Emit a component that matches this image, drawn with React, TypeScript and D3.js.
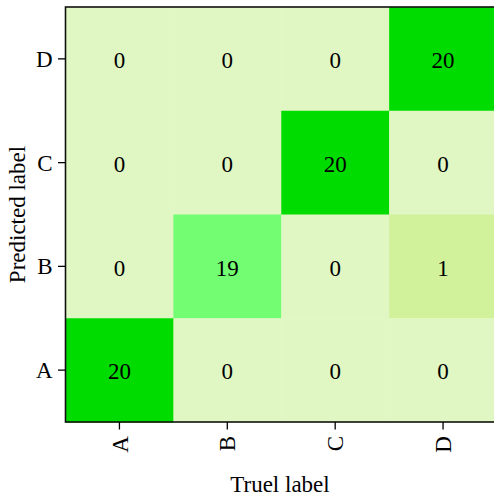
import React from "react";
import * as d3 from "d3";

const trueLabels = ["A", "B", "C", "D"];
const predLabels = ["D", "C", "B", "A"];
// matrix[pred][true]
const matrixA = [20, 0, 0, 0];
const matrixB = [0, 19, 0, 1];
const matrixC = [0, 0, 20, 0];
const matrixD = [0, 0, 0, 20];
const colorStops = [0, 1, 19, 20];
const colorRange = ["#e1f7c3", "#d1f19b", "#72fd72", "#00dc00"];

const W = 494;
const H = 497;
const left = 65.5;
const right = 497;
const top = 7;
const bottom = 422;
const FONT = "'Liberation Serif', 'Times New Roman', serif";

export default function App() {
  const x = d3.scaleBand<string>().domain(trueLabels).range([left, right]);
  const y = d3.scaleBand<string>().domain(predLabels).range([top, bottom]);
  const color = d3.scaleLinear<string>().domain(colorStops).range(colorRange);
  const rows: Record<string, number[]> = { A: matrixA, B: matrixB, C: matrixC, D: matrixD };
  const cells: { p: string; t: string; v: number }[] = [];
  predLabels.forEach((p) => trueLabels.forEach((t, i) => cells.push({ p, t, v: rows[p][i] })));
  const bw = x.bandwidth();
  const bh = y.bandwidth();
  return (
    <svg width={W} height={H} style={{ position: "absolute", left: 0, top: 0 }} fontFamily={FONT}>
      {cells.map((c) => (
        <rect key={c.p + c.t} x={x(c.t)} y={y(c.p)} width={bw + 0.5} height={bh + 0.5} fill={color(c.v)} />
      ))}
      {cells.map((c) => (
        <text key={"t" + c.p + c.t} x={x(c.t)! + bw / 2} y={y(c.p)! + bh / 2} dy="0.4em" textAnchor="middle" fontSize={23} fill="#000">
          {c.v}
        </text>
      ))}
      <rect x={left} y={top} width={right - left} height={bottom - top} fill="none" stroke="#111" strokeWidth={1.6} />
      {predLabels.map((p) => (
        <g key={"y" + p}>
          <line x1={left - 7.5} x2={left} y1={y(p)! + bh / 2} y2={y(p)! + bh / 2} stroke="#000" strokeWidth={1.3} />
          <text x={left - 13} y={y(p)! + bh / 2} dy="0.35em" textAnchor="end" fontSize={23}>{p}</text>
        </g>
      ))}
      {trueLabels.map((t) => (
        <g key={"x" + t}>
          <line x1={x(t)! + bw / 2} x2={x(t)! + bw / 2} y1={bottom} y2={bottom + 7.5} stroke="#000" strokeWidth={1.3} />
          <text transform={`translate(${x(t)! + bw / 2},${bottom + 14}) rotate(-90)`} dy="0.35em" textAnchor="end" fontSize={23}>{t}</text>
        </g>
      ))}
      <text x={280} y={492} textAnchor="middle" fontSize={23}>Truel label</text>
      <text transform={`translate(25,${(top + bottom) / 2}) rotate(-90)`} textAnchor="middle" fontSize={23}>Predicted label</text>
    </svg>
  );
}
